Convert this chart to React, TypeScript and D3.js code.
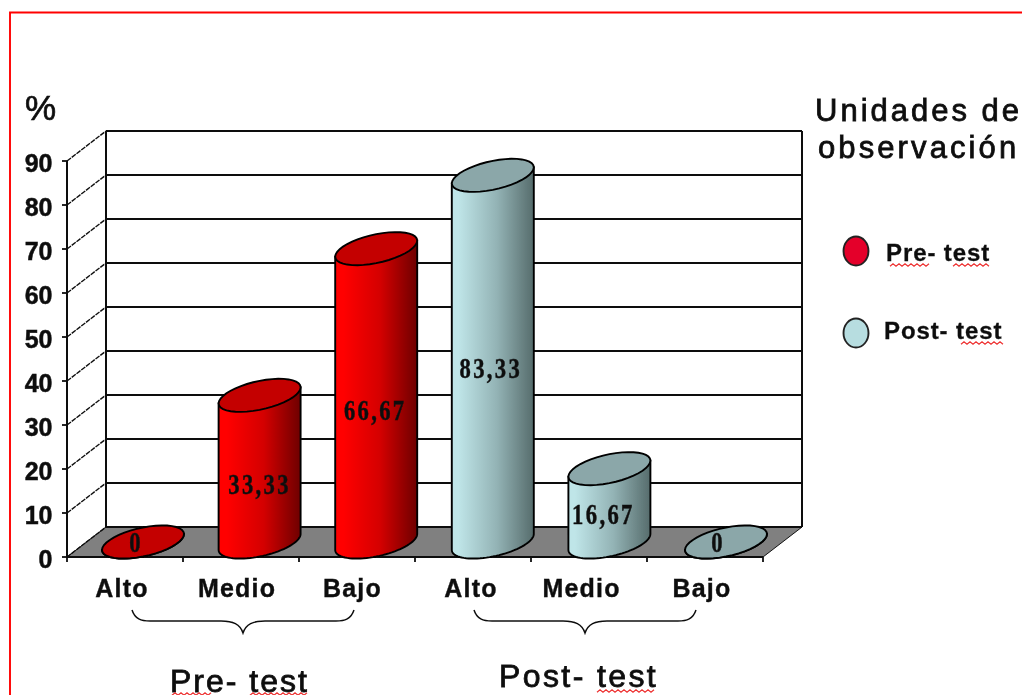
import React from "react";
import * as d3 from "d3";

const categories = ["Alto", "Medio", "Bajo", "Alto", "Medio", "Bajo"];
const preTest = [0, 33.33, 66.67];
const postTest = [83.33, 16.67, 0];
const valueLabels = ["0", "33,33", "66,67", "83,33", "16,67", "0"];
const yTicks = [0, 10, 20, 30, 40, 50, 60, 70, 80, 90];

const W = 1022, H = 695;
const front = { left: 67, right: 763, bottom: 557, top: 161 };
const depthX = 39, depthY = 30;
const rx = 41, ryFace = 14.5, tilt = -8;

const y = d3.scaleLinear().domain([0, 90]).range([front.bottom, front.top]);
const x = d3.scaleBand<number>().domain(d3.range(6)).range([front.left, front.right]);
const cylX = d3.scalePoint<number>().domain(d3.range(6)).range([143, 726]);
const edges = d3.range(7).map((i) => front.left + i * x.step());

const SANS = "'Liberation Sans', Arial, sans-serif";
const SERIF = "'Liberation Serif', 'Times New Roman', serif";
const lineGen = d3.line<[number, number]>();

const ptAt = (cx: number, cy: number, t: number): [number, number] => [
  cx + rx * Math.cos(t),
  cy + ryFace * Math.sin(t) + tilt * Math.cos(t),
];
const angles = (a: number, b: number) => d3.range(41).map((i) => a + ((b - a) * i) / 40);

function topFace(cx: number, cy: number) {
  return lineGen(angles(0, Math.PI * 2).map((t) => ptAt(cx, cy, t))) + "Z";
}
function body(cx: number, cyTop: number, cyBase: number) {
  const pts: [number, number][] = [
    ptAt(cx, cyTop, Math.PI),
    ...angles(Math.PI, 0).map((t) => ptAt(cx, cyBase, t)),
    ptAt(cx, cyTop, 0),
  ];
  return lineGen(pts) + "Z";
}
function squiggle(x0: number, x1: number, yy: number) {
  const n = Math.round((x1 - x0) / 3);
  const pts = d3.range(n + 1).map((i): [number, number] => [x0 + i * 3, yy + (i % 2 ? -1.3 : 1.3)]);
  return lineGen(pts) || "";
}
function brace(x0: number, x1: number, top: number) {
  const m = (x0 + x1) / 2, l = top + 11, tip = top + 23;
  return `M${x0},${top}C${x0 + 3},${l - 2} ${x0 + 9},${l} ${x0 + 18},${l}L${m - 22},${l}C${m - 10},${l} ${m - 3},${l + 3} ${m},${tip}C${m + 3},${l + 3} ${m + 10},${l} ${m + 22},${l}L${x1 - 18},${l}C${x1 - 9},${l} ${x1 - 3},${l - 2} ${x1},${top}`;
}

const bars = [...preTest, ...postTest].map((v, i) => ({ v, i, group: i < 3 ? "pre" : "post" }));
const labelNudge = [-3, -4, -4.5, -2, -7.5, -3];
const valueNudge = [-7, 0, -1, -2, -6, -8];
const valueFraction = [0, 0.395, 0.45, 0.475, 0.38, 0];

export default function App() {
  return (
    <svg width={W} height={H} viewBox={`0 0 ${W} ${H}`} style={{ position: "absolute", left: 0, top: 0, background: "#fff" }}>
      <defs>
        <linearGradient id="pre" x1="0" x2="1" y1="0" y2="0">
          <stop offset="0.1" stopColor="#ff0000" />
          <stop offset="0.55" stopColor="#d40000" />
          <stop offset="1" stopColor="#6e0000" />
        </linearGradient>
        <linearGradient id="post" x1="0" x2="1" y1="0" y2="0">
          <stop offset="0.08" stopColor="#bfe5e8" />
          <stop offset="0.55" stopColor="#93b3b5" />
          <stop offset="1" stopColor="#566c6c" />
        </linearGradient>
        <filter id="soft" filterUnits="userSpaceOnUse" x="0" y="0" width={W} height={H}>
          <feGaussianBlur stdDeviation="0.6" />
        </filter>
      </defs>

      <g filter="url(#soft)">
        <path d={`M10,${H}V12.5H${W}`} fill="none" stroke="#ff0000" strokeWidth={1.9} />

        <path
          d={lineGen([
            [front.left, y(0)],
            [front.right, y(0)],
            [front.right + depthX, y(0) - depthY],
            [front.left + depthX, y(0) - depthY],
          ]) + "Z"}
          fill="#808080"
          stroke="#111"
          strokeWidth={1}
        />

        {yTicks.map((t) => (
          <g key={t}>
            <line x1={front.left + depthX} x2={front.right + depthX} y1={y(t) - depthY} y2={y(t) - depthY} stroke="#111" strokeWidth={1.9} />
            <line x1={front.left} x2={front.left + depthX} y1={y(t)} y2={y(t) - depthY} stroke="#111" strokeWidth={1.4} strokeDasharray="5 1" />
            <line x1={front.left - 5} x2={front.left} y1={y(t)} y2={y(t)} stroke="#111" strokeWidth={1.8} />
            <text x={52.5} y={y(t) + 10.5} textAnchor="end" fontFamily={SANS} fontWeight={700} fontSize={25} stroke="#111" strokeWidth={0.5} fill="#111">
              {t}
            </text>
          </g>
        ))}
        <line x1={front.left + depthX} x2={front.left + depthX} y1={y(90) - depthY} y2={y(0) - depthY} stroke="#111" strokeWidth={2} />
        <line x1={front.right + depthX} x2={front.right + depthX} y1={y(90) - depthY} y2={y(0) - depthY} stroke="#111" strokeWidth={2} />
        <line x1={front.left} x2={front.left} y1={y(90)} y2={y(0)} stroke="#111" strokeWidth={2} />
        <line x1={front.left} x2={front.right} y1={y(0)} y2={y(0)} stroke="#111" strokeWidth={2} />
        {edges.map((e) => (
          <line key={e} x1={e} x2={e} y1={y(0)} y2={y(0) + 5} stroke="#111" strokeWidth={1.8} />
        ))}

        {bars.map((b) => {
          const cx = cylX(b.i) as number;
          const cyTop = y(b.v) - depthY / 2;
          const cyBase = y(0) - depthY / 2;
          return (
            <g key={b.i}>
              <path d={body(cx, cyTop, cyBase)} fill={`url(#${b.group})`} stroke="#000" strokeWidth={1.9} />
              <path d={topFace(cx, cyTop)} fill={b.group === "pre" ? "#c40000" : "#8ba7a9"} stroke="#000" strokeWidth={1.9} />
            </g>
          );
        })}

        {bars.map((b) => {
          const cx = (cylX(b.i) as number) + valueNudge[b.i];
          const yy = y(b.v * valueFraction[b.i]) - depthY / 2;
          return (
            <text
              key={b.i}
              transform={`translate(${cx},${yy + 10}) scale(0.78,1)`}
              textAnchor="middle"
              fontFamily={SERIF}
              fontWeight={700}
              fontSize={29}
              letterSpacing={3}
              fill="#111"
              stroke="#111"
              strokeWidth={0.5}
            >
              {valueLabels[b.i]}
            </text>
          );
        })}

        {categories.map((c, i) => (
          <text key={i} x={(x(i) as number) + x.bandwidth() / 2 + labelNudge[i]} y={597} textAnchor="middle" fontFamily={SANS} fontWeight={700} fontSize={25} letterSpacing={1.2} stroke="#111" strokeWidth={0.4} fill="#111">
            {c}
          </text>
        ))}

        <path d={brace(132, 354, 610)} fill="none" stroke="#111" strokeWidth={1.5} />
        <path d={brace(474, 696, 610)} fill="none" stroke="#111" strokeWidth={1.5} />

        <text x={25} y={120} fontFamily={SANS} fontSize={35} stroke="#111" strokeWidth={0.7} fill="#111">%</text>

        <text x={170} y={692} fontFamily={SANS} fontSize={32} letterSpacing={2} stroke="#111" strokeWidth={0.8} fill="#111">Pre- test</text>
        <text x={499} y={687} fontFamily={SANS} fontSize={32} letterSpacing={2.4} stroke="#111" strokeWidth={0.8} fill="#111">Post- test</text>
        <path d={squiggle(172, 212, 694)} fill="none" stroke="#e33" strokeWidth={1.2} />
        <path d={squiggle(250, 306, 694)} fill="none" stroke="#e33" strokeWidth={1.2} />
        <path d={squiggle(597, 655, 691)} fill="none" stroke="#e33" strokeWidth={1.2} />

        <text x={815} y={121} fontFamily={SANS} fontSize={31} letterSpacing={3} stroke="#111" strokeWidth={0.8} fill="#111">Unidades de</text>
        <text x={818} y={158} fontFamily={SANS} fontSize={31} letterSpacing={3.1} stroke="#111" strokeWidth={0.8} fill="#111">observación</text>

        <ellipse cx={856} cy={251} rx={12.5} ry={14.5} fill="#e4002b" stroke="#222" strokeWidth={1.9} />
        <ellipse cx={856} cy={333} rx={12.5} ry={14.5} fill="#b7dde0" stroke="#222" strokeWidth={1.9} />
        <text x={886} y={261} fontFamily={SANS} fontWeight={700} fontSize={24} letterSpacing={0.9} stroke="#111" strokeWidth={0.3} fill="#111">Pre- test</text>
        <text x={884} y={339} fontFamily={SANS} fontWeight={700} fontSize={24} letterSpacing={0.9} stroke="#111" strokeWidth={0.3} fill="#111">Post- test</text>
        <path d={squiggle(890, 929, 265)} fill="none" stroke="#e33" strokeWidth={1.2} />
        <path d={squiggle(953, 989, 265)} fill="none" stroke="#e33" strokeWidth={1.2} />
        <path d={squiggle(961, 1003, 343)} fill="none" stroke="#e33" strokeWidth={1.2} />
      </g>
    </svg>
  );
}
